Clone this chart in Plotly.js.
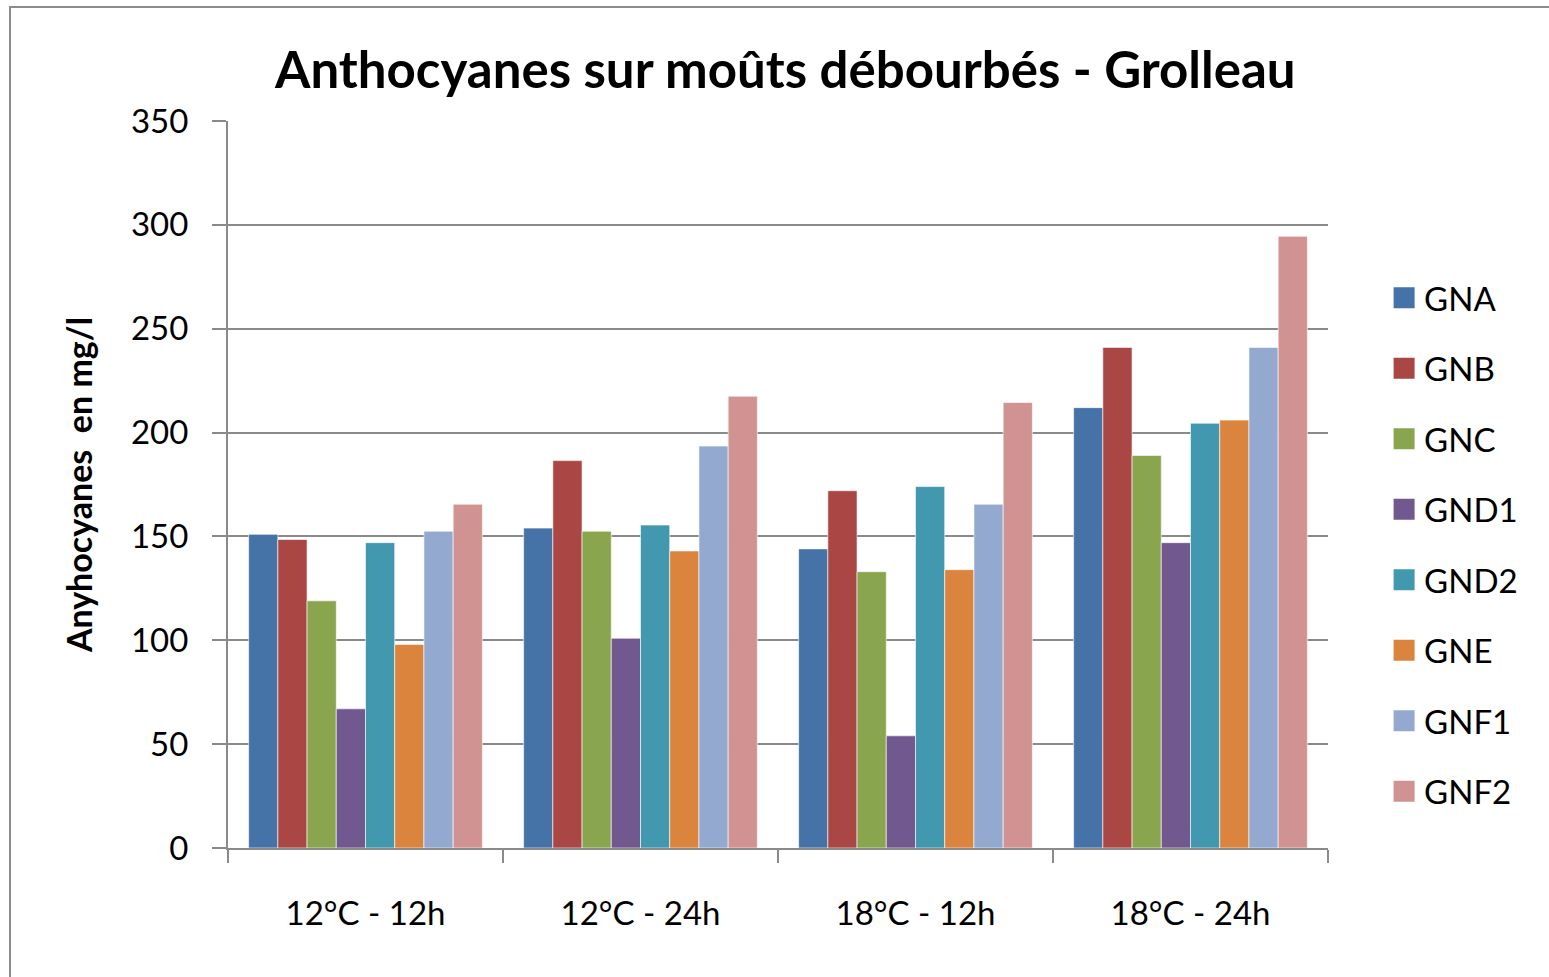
<!DOCTYPE html>
<html>
<head>
<meta charset="utf-8">
<script src="https://cdn.plot.ly/plotly-3.0.1.min.js"></script>
<style>
  html, body { margin: 0; padding: 0; background: #fff; overflow: hidden; }
  #frame { position: absolute; left: 9px; top: 6px; width: 1560px; height: 1000px; border: 2px solid #8c8c8c; box-sizing: border-box; pointer-events: none; z-index: 10; }
  #chart { position: absolute; left: 0; top: 0; width: 1549px; height: 977px; }
</style>
</head>
<body>
<div id="chart"></div>
<div id="frame"></div>
<script>
const categories = ["12°C - 12h", "12°C - 24h", "18°C - 12h", "18°C - 24h"];
const seriesNames = ["GNA", "GNB", "GNC", "GND1", "GND2", "GNE", "GNF1", "GNF2"];
const GNA  = [151, 154, 144, 212];
const GNB  = [148.5, 186.5, 172, 241];
const GNC  = [119, 152.5, 133, 189];
const GND1 = [67, 101, 54, 147];
const GND2 = [147, 155.5, 174, 204.5];
const GNE  = [98, 143, 134, 206];
const GNF1 = [152.5, 193.5, 165.5, 241];
const GNF2 = [165.5, 217.5, 214.5, 294.5];
const yTicks = [0, 50, 100, 150, 200, 250, 300, 350];

const seriesValues = [GNA, GNB, GNC, GND1, GND2, GNE, GNF1, GNF2];
const colors = ["#4572A7", "#AA4643", "#89A54E", "#71588F", "#4198AF", "#DB843D", "#93A9CF", "#D19392"];

const FONT = "Lato, 'Open Sans', sans-serif";

const traces = seriesNames.map((name, i) => ({
  type: "bar",
  name: name,
  x: categories,
  y: seriesValues[i],
  legendgroup: name,
  marker: { color: colors[i], line: { color: "rgba(255,255,255,0.6)", width: 1 } },
  hoverinfo: "x+y+name"
}));

const layout = {
  width: 1549,
  height: 977,
  paper_bgcolor: "#ffffff",
  plot_bgcolor: "#ffffff",
  margin: { l: 228, r: 221, t: 121, b: 129, pad: 0 },
  barmode: "group",
  bargap: 0.15,
  bargroupgap: 0,
  title: {
    text: "<b>Anthocyanes sur moûts débourbés - Grolleau</b>",
    font: { family: FONT, size: 51, color: "#000" },
    x: 0.507, xanchor: "center",
    y: 0.928, yanchor: "middle"
  },
  xaxis: {
    type: "category",
    showgrid: false,
    showline: true,
    linecolor: "#8a8a8a",
    linewidth: 2,
    ticks: "outside",
    tickson: "boundaries",
    ticklen: 13,
    tickwidth: 2,
    tickcolor: "#8a8a8a",
    ticklabelstandoff: 35,
    tickfont: { family: FONT, size: 33, color: "#000" },
    zeroline: false,
    fixedrange: true
  },
  yaxis: {
    range: [0, 350],
    tickvals: yTicks,
    ticktext: yTicks.map(String),
    showgrid: true,
    gridcolor: "#8a8a8a",
    gridwidth: 2,
    showline: true,
    linecolor: "#8a8a8a",
    linewidth: 2,
    ticks: "outside",
    ticklen: 14,
    tickwidth: 2,
    tickcolor: "#8a8a8a",
    ticklabelstandoff: 17,
    tickfont: { family: FONT, size: 33, color: "#000" },
    zeroline: false,
    title: {
      text: "<b>Anyhocyanes  en mg/l</b>",
      font: { family: FONT, size: 34, color: "#000" },
      standoff: 28
    },
    fixedrange: true
  },
  showlegend: true,
  legend: {
    x: 1.051, xanchor: "left",
    y: 0.417, yanchor: "middle",
    traceorder: "grouped",
    tracegroupgap: 24.6,
    font: { family: FONT, size: 33, color: "#000" },
    bgcolor: "rgba(0,0,0,0)",
    itemwidth: 30
  }
};

Plotly.newPlot("chart", traces, layout, { displayModeBar: false, staticPlot: true }).then(gd => {
  // enlarge legend swatches to match the reference's square markers
  gd.querySelectorAll(".legendpoints path").forEach(p => {
    p.setAttribute("d", "M10.5,10.5H-10.5V-10.5H10.5Z");
    p.style.strokeWidth = "0";
  });
});
</script>
</body>
</html>
